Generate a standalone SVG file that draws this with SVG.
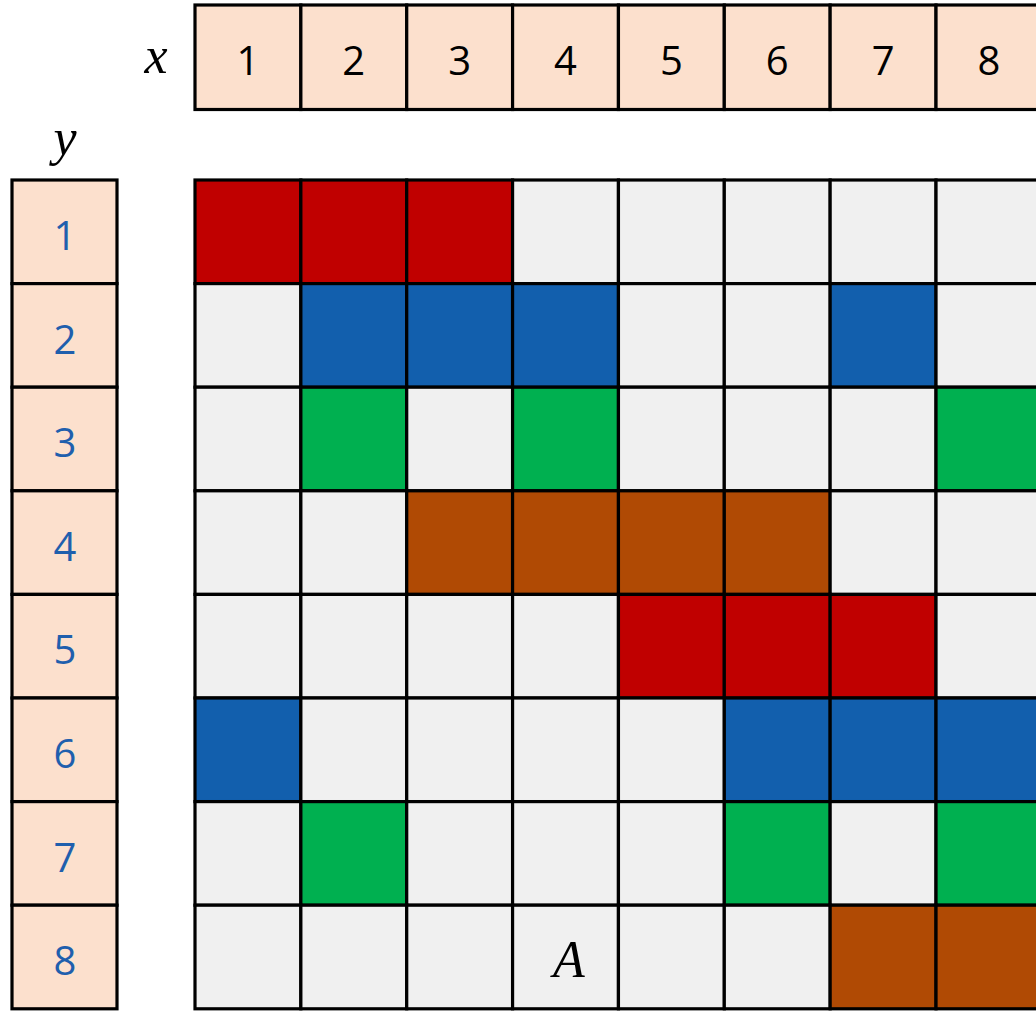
<svg xmlns="http://www.w3.org/2000/svg" width="1036" height="1011" viewBox="0 0 1036 1011">
<style>
.c{stroke:#000;stroke-width:3.2}
.h{fill:#FCE0CD}
.e{fill:#F0F0F0}
.r{fill:#C00000}
.b{fill:#125FAD}
.g{fill:#00B050}
.o{fill:#B04A04}
.nt{font-family:"Open Sans","Liberation Sans",sans-serif;font-size:40px;text-anchor:middle}
.nb{fill:#1F5FAD}
.m{font-family:"Liberation Serif","DejaVu Serif",serif;font-style:italic;font-size:52px;text-anchor:middle;fill:#000}
</style>
<rect width="1036" height="1011" fill="#fff"/>
<g id="xheader">
<text class="m" x="156" y="73">x</text>
<rect class="c h" x="195" y="5" width="105.86" height="104.5"/>
<rect class="c h" x="300.86" y="5" width="105.86" height="104.5"/>
<rect class="c h" x="406.72" y="5" width="105.86" height="104.5"/>
<rect class="c h" x="512.58" y="5" width="105.86" height="104.5"/>
<rect class="c h" x="618.44" y="5" width="105.86" height="104.5"/>
<rect class="c h" x="724.3" y="5" width="105.86" height="104.5"/>
<rect class="c h" x="830.16" y="5" width="105.86" height="104.5"/>
<rect class="c h" x="936.02" y="5" width="105.86" height="104.5"/>
<g class="nt">
<text x="248" y="75">1</text>
<text x="353.8" y="75">2</text>
<text x="459.6" y="75">3</text>
<text x="565.5" y="75">4</text>
<text x="671.4" y="75">5</text>
<text x="777.2" y="75">6</text>
<text x="883.1" y="75">7</text>
<text x="989" y="75">8</text>
</g>
</g>
<g id="yheader">
<text class="m" x="65" y="155">y</text>
<rect class="c h" x="12" y="180" width="105" height="103.6"/>
<rect class="c h" x="12" y="283.6" width="105" height="103.6"/>
<rect class="c h" x="12" y="387.2" width="105" height="103.6"/>
<rect class="c h" x="12" y="490.8" width="105" height="103.6"/>
<rect class="c h" x="12" y="594.4" width="105" height="103.6"/>
<rect class="c h" x="12" y="698" width="105" height="103.6"/>
<rect class="c h" x="12" y="801.6" width="105" height="103.6"/>
<rect class="c h" x="12" y="905.2" width="105" height="103.6"/>
<g class="nt nb">
<text x="65" y="250">1</text>
<text x="65" y="353.6">2</text>
<text x="65" y="457.2">3</text>
<text x="65" y="560.8">4</text>
<text x="65" y="664.4">5</text>
<text x="65" y="768">6</text>
<text x="65" y="871.6">7</text>
<text x="65" y="975.2">8</text>
</g>
</g>
<g id="grid">
<!-- row 1 -->
<rect class="c r" x="195" y="180" width="105.86" height="103.6"/>
<rect class="c r" x="300.86" y="180" width="105.86" height="103.6"/>
<rect class="c r" x="406.72" y="180" width="105.86" height="103.6"/>
<rect class="c e" x="512.58" y="180" width="105.86" height="103.6"/>
<rect class="c e" x="618.44" y="180" width="105.86" height="103.6"/>
<rect class="c e" x="724.3" y="180" width="105.86" height="103.6"/>
<rect class="c e" x="830.16" y="180" width="105.86" height="103.6"/>
<rect class="c e" x="936.02" y="180" width="105.86" height="103.6"/>
<!-- row 2 -->
<rect class="c e" x="195" y="283.6" width="105.86" height="103.6"/>
<rect class="c b" x="300.86" y="283.6" width="105.86" height="103.6"/>
<rect class="c b" x="406.72" y="283.6" width="105.86" height="103.6"/>
<rect class="c b" x="512.58" y="283.6" width="105.86" height="103.6"/>
<rect class="c e" x="618.44" y="283.6" width="105.86" height="103.6"/>
<rect class="c e" x="724.3" y="283.6" width="105.86" height="103.6"/>
<rect class="c b" x="830.16" y="283.6" width="105.86" height="103.6"/>
<rect class="c e" x="936.02" y="283.6" width="105.86" height="103.6"/>
<!-- row 3 -->
<rect class="c e" x="195" y="387.2" width="105.86" height="103.6"/>
<rect class="c g" x="300.86" y="387.2" width="105.86" height="103.6"/>
<rect class="c e" x="406.72" y="387.2" width="105.86" height="103.6"/>
<rect class="c g" x="512.58" y="387.2" width="105.86" height="103.6"/>
<rect class="c e" x="618.44" y="387.2" width="105.86" height="103.6"/>
<rect class="c e" x="724.3" y="387.2" width="105.86" height="103.6"/>
<rect class="c e" x="830.16" y="387.2" width="105.86" height="103.6"/>
<rect class="c g" x="936.02" y="387.2" width="105.86" height="103.6"/>
<!-- row 4 -->
<rect class="c e" x="195" y="490.8" width="105.86" height="103.6"/>
<rect class="c e" x="300.86" y="490.8" width="105.86" height="103.6"/>
<rect class="c o" x="406.72" y="490.8" width="105.86" height="103.6"/>
<rect class="c o" x="512.58" y="490.8" width="105.86" height="103.6"/>
<rect class="c o" x="618.44" y="490.8" width="105.86" height="103.6"/>
<rect class="c o" x="724.3" y="490.8" width="105.86" height="103.6"/>
<rect class="c e" x="830.16" y="490.8" width="105.86" height="103.6"/>
<rect class="c e" x="936.02" y="490.8" width="105.86" height="103.6"/>
<!-- row 5 -->
<rect class="c e" x="195" y="594.4" width="105.86" height="103.6"/>
<rect class="c e" x="300.86" y="594.4" width="105.86" height="103.6"/>
<rect class="c e" x="406.72" y="594.4" width="105.86" height="103.6"/>
<rect class="c e" x="512.58" y="594.4" width="105.86" height="103.6"/>
<rect class="c r" x="618.44" y="594.4" width="105.86" height="103.6"/>
<rect class="c r" x="724.3" y="594.4" width="105.86" height="103.6"/>
<rect class="c r" x="830.16" y="594.4" width="105.86" height="103.6"/>
<rect class="c e" x="936.02" y="594.4" width="105.86" height="103.6"/>
<!-- row 6 -->
<rect class="c b" x="195" y="698" width="105.86" height="103.6"/>
<rect class="c e" x="300.86" y="698" width="105.86" height="103.6"/>
<rect class="c e" x="406.72" y="698" width="105.86" height="103.6"/>
<rect class="c e" x="512.58" y="698" width="105.86" height="103.6"/>
<rect class="c e" x="618.44" y="698" width="105.86" height="103.6"/>
<rect class="c b" x="724.3" y="698" width="105.86" height="103.6"/>
<rect class="c b" x="830.16" y="698" width="105.86" height="103.6"/>
<rect class="c b" x="936.02" y="698" width="105.86" height="103.6"/>
<!-- row 7 -->
<rect class="c e" x="195" y="801.6" width="105.86" height="103.6"/>
<rect class="c g" x="300.86" y="801.6" width="105.86" height="103.6"/>
<rect class="c e" x="406.72" y="801.6" width="105.86" height="103.6"/>
<rect class="c e" x="512.58" y="801.6" width="105.86" height="103.6"/>
<rect class="c e" x="618.44" y="801.6" width="105.86" height="103.6"/>
<rect class="c g" x="724.3" y="801.6" width="105.86" height="103.6"/>
<rect class="c e" x="830.16" y="801.6" width="105.86" height="103.6"/>
<rect class="c g" x="936.02" y="801.6" width="105.86" height="103.6"/>
<!-- row 8 -->
<rect class="c e" x="195" y="905.2" width="105.86" height="103.6"/>
<rect class="c e" x="300.86" y="905.2" width="105.86" height="103.6"/>
<rect class="c e" x="406.72" y="905.2" width="105.86" height="103.6"/>
<rect class="c e" x="512.58" y="905.2" width="105.86" height="103.6"/>
<rect class="c e" x="618.44" y="905.2" width="105.86" height="103.6"/>
<rect class="c e" x="724.3" y="905.2" width="105.86" height="103.6"/>
<rect class="c o" x="830.16" y="905.2" width="105.86" height="103.6"/>
<rect class="c o" x="936.02" y="905.2" width="105.86" height="103.6"/>
<text class="m" x="569" y="977">A</text>
</g>
</svg>
